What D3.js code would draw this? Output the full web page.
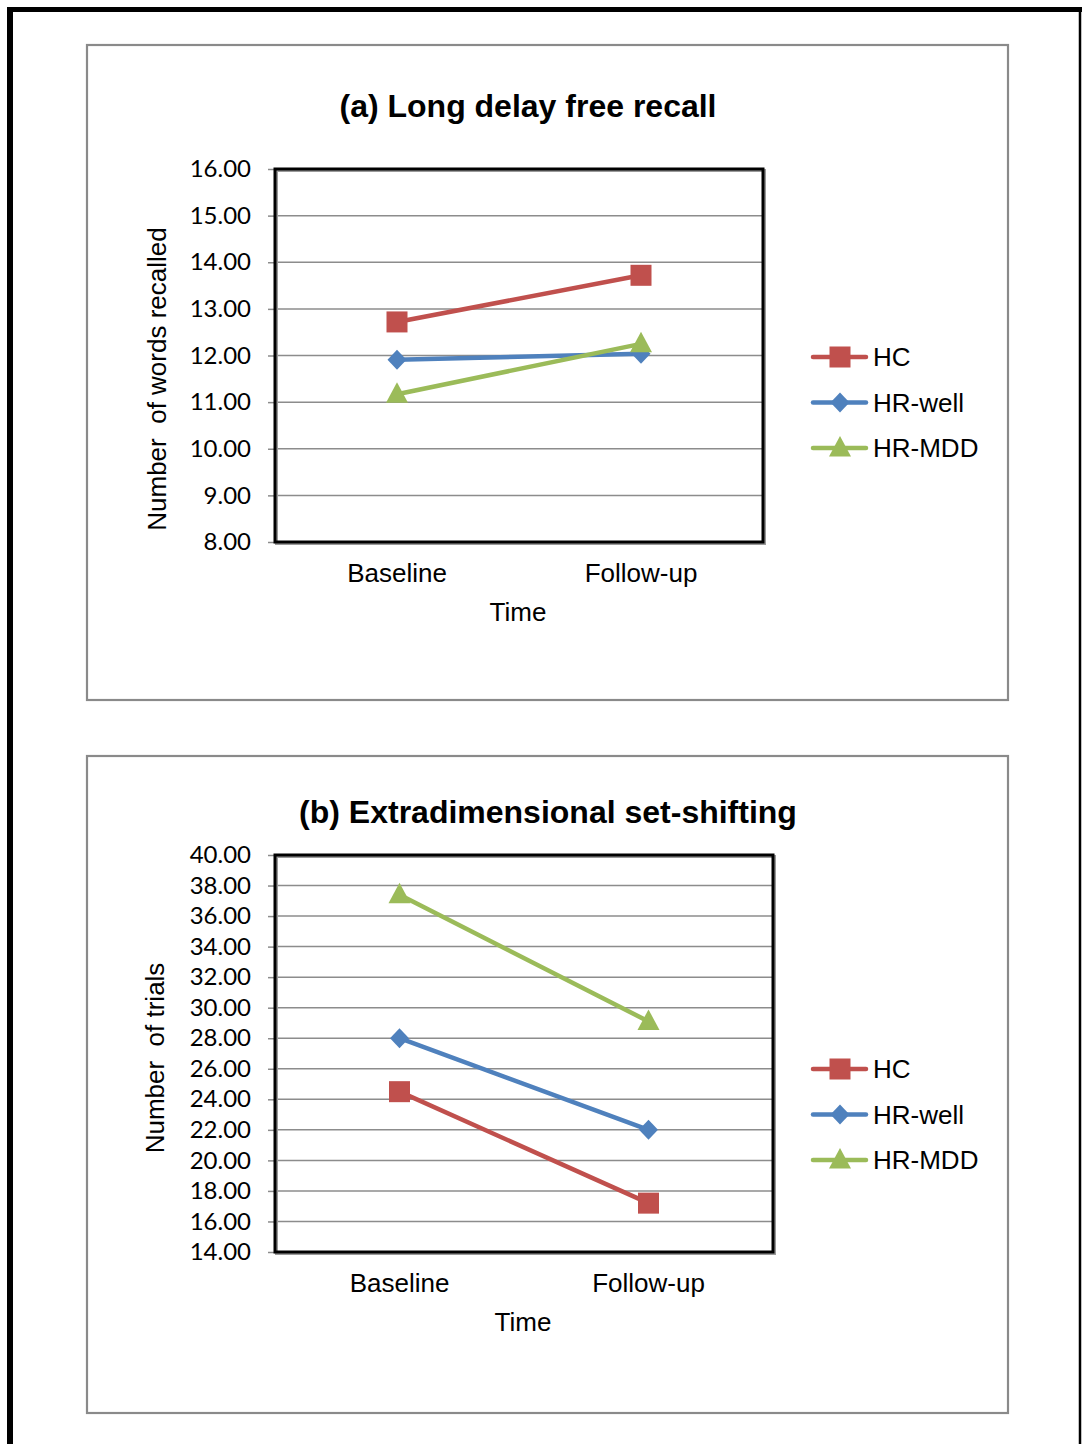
<!DOCTYPE html>
<html>
<head>
<meta charset="utf-8">
<script src="https://cdn.jsdelivr.net/npm/d3@7"></script>
<style>
  body { margin: 0; background: #fff; }
  text { font-family: 'Liberation Sans', Arial, sans-serif; fill: #000; }
  .tick-label { font-family: Lato, 'Liberation Sans', sans-serif; }
</style>
</head>
<body>
<div id="chart"></div>
<script>
// data
let times = ['Baseline', 'Follow-up']
let groups = ['HC', 'HR-well', 'HR-MDD']
let colors = ['#C0504D', '#4F81BD', '#9BBB59']

let recallHC = [12.72, 13.72]
let recallWell = [11.91, 12.04]
let recallMDD = [11.17, 12.25]
let recallTicks = [8, 9, 10, 11, 12, 13, 14, 15, 16]

let shiftHC = [24.5, 17.2]
let shiftWell = [28.0, 22.0]
let shiftMDD = [37.4, 29.1]
let shiftTicks = [14, 16, 18, 20, 22, 24, 26, 28, 30, 32, 34, 36, 38, 40]

let width = 1082,
  height = 1444

let svg = d3.select('#chart')
  .append('svg')
  .attr('width', width)
  .attr('height', height)

// outer page frame (left, top, right)
svg.append('line').attr('x1', 10).attr('x2', 10).attr('y1', 7).attr('y2', height)
  .attr('stroke', '#000').attr('stroke-width', 6)
svg.append('line').attr('x1', 7).attr('x2', 1082).attr('y1', 9.5).attr('y2', 9.5)
  .attr('stroke', '#000').attr('stroke-width', 5)
svg.append('line').attr('x1', 1080).attr('x2', 1080).attr('y1', 7).attr('y2', height)
  .attr('stroke', '#000').attr('stroke-width', 2.5)

function marker(g, shape, color) {
  if (shape == 'square') {
    g.append('rect').attr('x', -10.5).attr('y', -10.5).attr('width', 21).attr('height', 21)
      .attr('fill', color)
  } else if (shape == 'diamond') {
    g.append('path').attr('d', 'M0,-10L9.5,0L0,10L-9.5,0Z').attr('fill', color)
  } else {
    g.append('path').attr('d', 'M0,-12L11,8.5L-11,8.5Z').attr('fill', color)
  }
}

let shapes = ['square', 'diamond', 'triangle']

function drawChart(opt) {
  // panel frame
  svg.append('rect')
    .attr('x', opt.panel[0]).attr('y', opt.panel[1])
    .attr('width', opt.panel[2]).attr('height', opt.panel[3])
    .attr('fill', '#fff').attr('stroke', '#8a8a8a').attr('stroke-width', 2.2)

  let x = d3.scalePoint()
    .domain(times)
    .range([opt.plot[0], opt.plot[2]])
    .padding(0.5)

  let y = d3.scaleLinear()
    .domain(d3.extent(opt.ticks))
    .range([opt.plot[3], opt.plot[1]])

  // gridlines
  svg.append('g')
    .selectAll('line')
    .data(opt.ticks)
    .enter().append('line')
    .attr('x1', opt.plot[0]).attr('x2', opt.plot[2])
    .attr('y1', d => y(d)).attr('y2', d => y(d))
    .attr('stroke', '#8c8c8c').attr('stroke-width', 1.5)

  // y axis
  let yAxis = svg.append('g')
    .attr('transform', `translate(${opt.plot[0]},0)`)
    .call(d3.axisLeft(y).tickValues(opt.ticks).tickFormat(d3.format('.2f')).tickSize(7).tickPadding(17))
  yAxis.select('.domain').remove()
  yAxis.selectAll('.tick line').attr('stroke', '#8c8c8c').attr('stroke-width', 1.5)
  yAxis.selectAll('.tick text')
    .attr('class', 'tick-label')
    .attr('font-size', 24)
    .attr('font-family', 'Lato, sans-serif')
    .attr('fill', '#111')

  // plot frame with a soft shadow
  svg.append('rect')
    .attr('x', opt.plot[0] + 1.5).attr('y', opt.plot[1] + 1.5)
    .attr('width', opt.plot[2] - opt.plot[0]).attr('height', opt.plot[3] - opt.plot[1])
    .attr('fill', 'none').attr('stroke', '#9a9a9a').attr('stroke-width', 3)
  svg.append('rect')
    .attr('x', opt.plot[0]).attr('y', opt.plot[1])
    .attr('width', opt.plot[2] - opt.plot[0]).attr('height', opt.plot[3] - opt.plot[1])
    .attr('fill', 'none').attr('stroke', '#000').attr('stroke-width', 3)

  // series
  let line = d3.line()
    .x((d, i) => x(times[i]))
    .y(d => y(d))

  opt.series.forEach((s, k) => {
    svg.append('path')
      .datum(s)
      .attr('d', line)
      .attr('fill', 'none')
      .attr('stroke', colors[k])
      .attr('stroke-width', 4.5)
      .attr('stroke-linecap', 'round')
  })
  opt.series.forEach((s, k) => {
    s.forEach((v, i) => {
      let g = svg.append('g').attr('transform', `translate(${x(times[i])},${y(v)})`)
      marker(g, shapes[k], colors[k])
    })
  })

  // category labels
  svg.append('g')
    .selectAll('text')
    .data(times)
    .enter().append('text')
    .attr('x', d => x(d))
    .attr('y', opt.plot[3] + 40)
    .attr('text-anchor', 'middle')
    .attr('font-size', 26)
    .text(d => d)

  svg.append('text')
    .attr('x', opt.timeX)
    .attr('y', opt.plot[3] + 79)
    .attr('text-anchor', 'middle')
    .attr('font-size', 26)
    .text('Time')

  // title
  svg.append('text')
    .attr('x', opt.titleX)
    .attr('y', opt.titleY)
    .attr('text-anchor', 'middle')
    .attr('font-size', 32)
    .attr('font-weight', 'bold')
    .text(opt.title)

  // y title
  svg.append('text')
    .attr('transform', `translate(${opt.yTitle[0]},${opt.yTitle[1]}) rotate(-90)`)
    .attr('text-anchor', 'middle')
    .attr('font-size', 26)
    .style('white-space', 'pre')
    .text(opt.yLabel)

  // legend
  let legend = svg.append('g')
    .selectAll('g')
    .data(groups)
    .enter().append('g')
    .attr('transform', (d, i) => `translate(813,${opt.legendY + i * 45.5})`)

  legend.append('line')
    .attr('x1', 0).attr('x2', 53)
    .attr('stroke', (d, i) => colors[i])
    .attr('stroke-width', 4.5)
    .attr('stroke-linecap', 'round')
  legend.each(function(d, i) {
    let g = d3.select(this).append('g').attr('transform', 'translate(27,0)')
    marker(g, shapes[i], colors[i])
  })
  legend.append('text')
    .attr('x', 60)
    .attr('dy', '0.36em')
    .attr('font-size', 26)
    .text(d => d)
}

drawChart({
  panel: [87, 45, 921, 655],
  plot: [275, 169, 763, 542],
  ticks: recallTicks,
  series: [recallHC, recallWell, recallMDD],
  title: '(a) Long delay free recall',
  titleX: 528, titleY: 117,
  timeX: 518,
  yLabel: 'Number  of words recalled',
  yTitle: [166, 379],
  legendY: 357
})

drawChart({
  panel: [87, 756, 921, 657],
  plot: [275, 855, 773, 1252],
  ticks: shiftTicks,
  series: [shiftHC, shiftWell, shiftMDD],
  title: '(b) Extradimensional set-shifting',
  titleX: 548, titleY: 823,
  timeX: 523,
  yLabel: 'Number  of trials',
  yTitle: [164, 1058],
  legendY: 1069
})
</script>
</body>
</html>
